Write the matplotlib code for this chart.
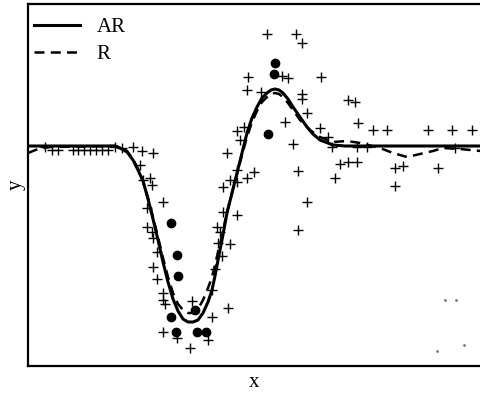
import numpy as np
import matplotlib
matplotlib.use('Agg')
import matplotlib.pyplot as plt

plt.rcParams['font.family'] = ['Liberation Serif', 'DejaVu Serif']

# Fitted curves
ar_x = [0, 87, 92, 99, 105, 110, 115, 120, 125, 130, 135, 140, 145, 150, 155, 160,
        165, 170, 175, 180, 184, 187, 190, 194, 199, 204, 209, 214, 219, 224, 229,
        234, 239, 243, 247, 251, 255, 260, 265, 272, 279, 285, 292, 305, 317, 453]
ar_y = [220, 220, 218, 214, 206, 196, 185, 167, 147, 126, 104, 84, 67, 55, 47, 44,
        44, 46, 53, 64, 76, 90, 106, 126, 153, 173, 193, 213, 233, 248, 259,
        268, 273, 276, 277, 276, 273, 267, 259, 249, 239, 232, 226, 221, 220, 220]

r_x = [0, 10, 22, 87, 92, 99, 105, 110, 115, 120, 125, 130, 135, 140, 145, 150,
       155, 160, 165, 170, 175, 180, 184, 187, 190, 194, 199, 204, 209, 214, 219,
       224, 229, 234, 239, 243, 247, 251, 255, 260, 265, 272, 282, 292, 305, 319,
       332, 352, 365, 379, 392, 405, 415, 432, 453]
r_y = [213, 217, 219, 220, 219, 215, 207, 197, 185, 168, 149, 129, 108, 89, 73, 62,
       56, 53, 53, 57, 66, 78, 89, 101, 114, 130, 154, 173, 192, 211, 229,
       244, 255, 264, 269, 272, 273, 272, 269, 263, 256, 246, 236, 229, 224, 225,
       223, 218, 213, 209, 212, 215, 218, 217, 215]

# Observations
obs_x = [17, 24, 30, 45, 50, 56, 62, 68, 74, 80, 87, 94, 105, 114, 125, 112, 115,
         122, 124, 135, 119, 119, 124, 125, 129, 125, 129, 135, 135, 137, 135, 149,
         162, 164, 180, 184, 200, 184, 187, 190, 192, 194, 202, 195, 209, 189, 195,
         202, 209, 219, 226, 209, 199, 209, 216, 212, 239, 268, 274, 220, 254, 260,
         293, 219, 233, 274, 274, 279, 257, 265, 270, 279, 270, 320, 327, 330, 292,
         300, 304, 329, 339, 345, 359, 312, 320, 329, 307, 367, 375, 367, 400, 424,
         444, 410, 427]
obs_y = [219, 216, 216, 216, 216, 216, 216, 216, 216, 216, 219, 218, 219, 215, 213,
         201, 186, 188, 181, 164, 158, 139, 134, 128, 114, 99, 87, 73, 66, 62, 34, 28,
         18, 65, 26, 49, 58, 76, 97, 123, 134, 110, 122, 154, 151, 139, 179, 186,
         184, 188, 194, 196, 213, 235, 239, 226, 332, 332, 323, 289, 290, 288, 289,
         276, 274, 272, 267, 253, 244, 222, 195, 164, 136, 266, 264, 243, 238, 229,
         219, 219, 219, 236, 236, 202, 204, 204, 188, 198, 200, 180, 236, 236, 236,
         198, 218]

# Highlighted points
dot_x = [143, 149, 150, 143, 148, 169, 178, 167, 240, 247, 246]
dot_y = [143, 111, 90, 49, 34, 34, 34, 56, 232, 303, 292]

# faint specks in lower right
speck_x = [417, 428, 436, 409]
speck_y = [66, 66, 21, 15]

fig = plt.figure(figsize=(4.81, 3.94), dpi=100)
ax = fig.add_axes([28/481, 28/394, 453/481, 362/394])

ax.plot(ar_x, ar_y, color='black', lw=2.2, label='AR')
ax.plot(r_x, r_y, color='black', lw=1.8, ls=(0, (4, 2.5)), label='R')
ax.plot(obs_x, obs_y, '+', color='black', ms=7, mew=1.0)
ax.plot(dot_x, dot_y, 'o', color='black', ms=6)
ax.plot(speck_x, speck_y, '.', color='#777777', ms=2)

ax.set_xlim(0, 453)
ax.set_ylim(0, 362)
ax.set_xticks([])
ax.set_yticks([])
ax.spines['right'].set_visible(False)
for s in ['left', 'top', 'bottom']:
    ax.spines[s].set_linewidth(1.6)

ax.set_xlabel('x', fontsize=15, labelpad=5)
ax.set_ylabel('y', fontsize=15, labelpad=2)

ax.legend(loc='upper left', bbox_to_anchor=(0, 0.98), frameon=False, fontsize=15,
          handlelength=2.2, handletextpad=0.8, labelspacing=0.35,
          borderaxespad=0.1, borderpad=0.2)

fig.savefig('out.png', dpi=100)
